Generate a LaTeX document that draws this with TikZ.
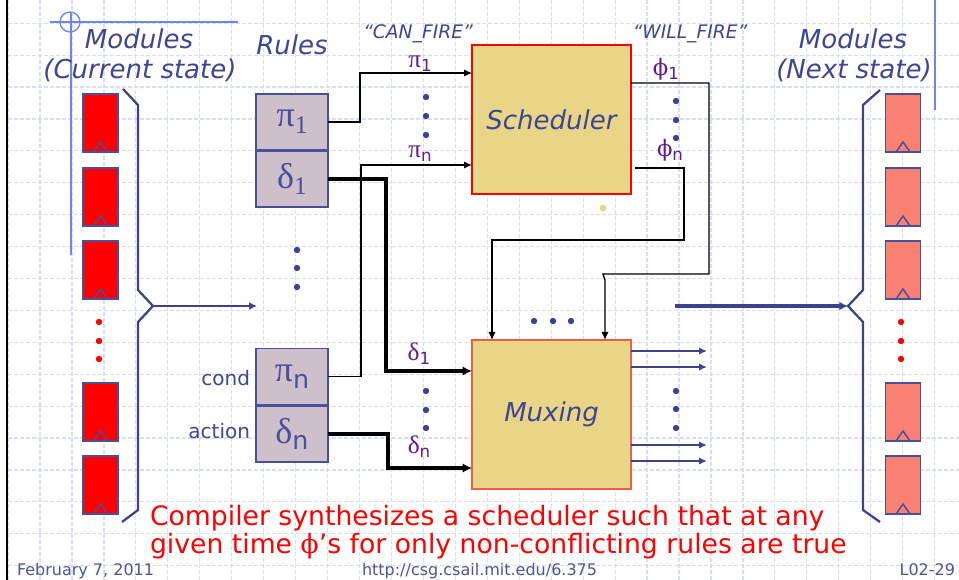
\documentclass[tikz,border=0pt]{standalone}
\usepackage{fontspec}
\setmainfont{DejaVu Sans}
\newfontfamily\gkfont{Liberation Serif}
\newfontfamily\phifont{DejaVu Serif}
\usetikzlibrary{arrows.meta,calc}
\definecolor{txtblue}{RGB}{63,69,147}
\definecolor{boxblue}{RGB}{74,79,154}
\definecolor{dotblue}{RGB}{61,66,140}
\definecolor{rulefill}{RGB}{206,192,202}
\definecolor{blockfill}{RGB}{233,213,135}
\definecolor{salmon}{RGB}{250,128,114}
\definecolor{gridcol}{RGB}{214,222,250}
\definecolor{decoblue}{RGB}{106,134,240}
\definecolor{lblpurple}{RGB}{94,30,140}
\definecolor{muxborder}{RGB}{242,92,69}
\definecolor{footcol}{RGB}{78,85,144}
\newcommand\glab[2]{{\gkfont\fontsize{19}{19}\selectfont #1}\raisebox{-3pt}{\fontsize{12.5}{12.5}\selectfont #2}}
\newcommand\plab[1]{{\phifont\fontsize{17}{17}\selectfont ϕ}\raisebox{-3pt}{\fontsize{12.5}{12.5}\selectfont #1}}
\newcommand\gbox[2]{{\gkfont\fontsize{27}{27}\selectfont #1}\raisebox{-5pt}{#2}}
\begin{document}
\begin{tikzpicture}[x=0.75pt,y=-0.75pt,
  every node/.style={inner sep=0pt, outer sep=0pt},
  gridline/.style={draw=gridcol, line width=0.9pt, dash pattern=on 3pt off 1.5pt},
  reg/.style={draw=boxblue, line width=1.3pt, minimum width=26.25pt, minimum height=43.5pt},
  rulebox/.style={draw=boxblue, fill=rulefill, line width=1.3pt, minimum width=54pt, minimum height=42pt, text=boxblue},
  blk/.style={line width=1.3pt, fill=blockfill, minimum width=119.25pt, minimum height=111.75pt, text=txtblue, font=\fontsize{19.5}{22}\selectfont\itshape},
  ttl/.style={text=txtblue, font=\fontsize{19.5}{22}\selectfont\itshape},
  smallttl/.style={text=txtblue, font=\fontsize{14}{16}\selectfont\itshape},
  conn/.style={draw=black, line width=1pt, -{Latex[length=6pt,width=5.5pt]}},
  thickconn/.style={draw=black, line width=2.7pt, -{Latex[length=7pt,width=7pt]}},
  bracket/.style={draw=dotblue, line width=1.7pt},
  bluearrow/.style={draw=dotblue, line width=1.8pt, -{Latex[length=6pt,width=6pt]}},
  bluearrowthick/.style={draw=dotblue, line width=2.3pt, -{Latex[length=6.5pt,width=6.5pt]}},
  outthin/.style={draw=dotblue, line width=1.4pt, -{Latex[length=6pt,width=5.5pt]}},
  outthick/.style={draw=dotblue, line width=2.1pt, -{Latex[length=6pt,width=5.5pt]}},
  dot/.style={circle, fill=dotblue, minimum size=4.8pt},
  reddot/.style={circle, fill=red, minimum size=4.8pt},
  lbl/.style={text=lblpurple},
  side/.style={text=txtblue, font=\fontsize{15}{17}\selectfont},
  foot/.style={text=footcol, font=\fontsize{12}{14}\selectfont},
  note/.style={text=red, font=\fontsize{20}{22}\selectfont}
]
\useasboundingbox (0,0) rectangle (959,580);
\fill[white] (0,0) rectangle (959,580);
% grid
\foreach \i in {0,...,29} \draw[gridline] ({8.05+31.95*\i},0) -- ({8.05+31.95*\i},580);
\foreach \j in {0,...,17} \draw[gridline] (8,{23.3+31.9*\j}) -- (959,{23.3+31.9*\j});
% frame decorations
\draw[black, line width=2pt] (7,0) -- (7,580);
\draw[decoblue, line width=1.2pt] (50,22) -- (238,22);
\draw[decoblue, line width=1.2pt] (71,13) -- (71,255);
\draw[decoblue, line width=1pt] (70,22) circle[radius=10];
\draw[decoblue, line width=1.5pt] (935,0) -- (935,110);
% titles
\node[ttl] (modL) at (139,39) {Modules};
\node[ttl] (curL) at (140,70) {(Current state)};
\node[ttl] (rules) at (292,45) {Rules};
\node[smallttl] (canfire) at (418,34) {“CAN\_FIRE”};
\node[smallttl] (willfire) at (690,34) {“WILL\_FIRE”};
\node[ttl] (modR) at (853,39) {Modules};
\node[ttl] (nextR) at (854,70) {(Next state)};
% registers
\foreach \n/\y in {l1/123,l2/197,l3/270,l4/412,l5/485} {
  \node[reg, fill=red] (\n) at (100.5,\y) {};
  \draw[boxblue, line width=1.1pt] ($(\n.south)+(-7,0)$) -- ($(\n.south)+(0,-10)$) -- ($(\n.south)+(7,0)$);
}
\foreach \n/\y in {r1/123,r2/197,r3/270,r4/412,r5/485} {
  \node[reg, fill=salmon] (\n) at (903,\y) {};
  \draw[boxblue, line width=1.1pt] ($(\n.south)+(-7,0)$) -- ($(\n.south)+(0,-10)$) -- ($(\n.south)+(7,0)$);
}
\foreach \y [count=\k] in {322,341,359} {
  \node[reddot] (ldot\k) at (99,\y) {};
  \node[reddot] (rdot\k) at (901,\y) {};
}
% brackets
\coordinate (lb) at (153,306);
\coordinate (rulein) at (257,306);
\draw[bracket, line join=miter] (123,89) -- (138,105) -- (138,290) -- (lb) -- (138,322) -- (138,510) -- (122,522);
\draw[bluearrow] (lb) -- (rulein);
\coordinate (rb) at (848,306);
\coordinate (muxout) at (675,306);
\draw[bracket, line join=miter] (880,90) -- (863,105) -- (863,290) -- (rb) -- (863,322) -- (863,510) -- (880,522);
\draw[bluearrowthick] (muxout) -- (rb);
% rules
\node[rulebox] (rp1) at (292,122) {\gbox{π}{\fontsize{19}{19}\gkfont 1}};
\node[rulebox] (rd1) at (292,179) {\gbox{δ}{\fontsize{19}{19}\gkfont 1}};
\node[rulebox] (rpn) at (292,376.5) {\gbox{π}{\fontsize{19}{19}\selectfont n}};
\node[rulebox] (rdn) at (292,434) {\gbox{δ}{\fontsize{19}{19}\selectfont n}};
\node[side, anchor=east] (cond) at (250,378) {cond};
\node[side, anchor=east] (action) at (250,431) {action};
\foreach \y [count=\k] in {250,268,287} \node[dot] (rdots\k) at (297,\y) {};
% blocks
\node[blk, draw=red] (sched) at (551.5,119.5) {Scheduler};
\node[blk, draw=muxborder] (mux) at (551.5,414.5) {Muxing};
\node[circle, fill=blockfill, minimum size=5pt] (ydot) at (603,208) {};
% pi connectors
\draw[conn] (rp1.east) -- (360,122) |- (sched.west |- 0,73);
\draw[conn] (rpn.east) -- (361,376.5) |- (sched.west |- 0,165);
\node[lbl] (lp1) at (420,64) {\glab{π}{1}};
\node[lbl] (lpn) at (420,154) {\glab{π}{n}};
\foreach \y [count=\k] in {97,116,135} \node[dot] (pdots\k) at (426,\y) {};
% delta connectors
\draw[thickconn] (rd1.east) -- (386,179) |- (mux.west |- 0,371);
\draw[thickconn] (rdn.east) -- (388,434) |- (mux.west |- 0,468);
\node[lbl] (ld1) at (419,354) {\glab{δ}{1}};
\node[lbl] (ldn) at (419,447) {\glab{δ}{n}};
\foreach \y [count=\k] in {391,410,428} \node[dot] (ddots\k) at (426,\y) {};
% phi connectors
\draw[conn] (sched.east |- 0,83) -- (709,83) -- (709,274) -- (603,274) -- (605,280) -- (mux.north -| 605,0);
\draw[conn] (635,168) -- (684,168) -- (684,240) -- (492,240) -- (mux.north -| 492,0);
\node[lbl] (lf1) at (666,69) {\plab{1}};
\node[lbl] (lfn) at (670,150) {\plab{n}};
\foreach \y [count=\k] in {101,120,138} \node[dot] (fdots\k) at (676,\y) {};
\foreach \x [count=\k] in {534,553,571} \node[dot] (hdots\k) at (\x,321) {};
% mux outputs
\coordinate (o1) at (707,351);
\coordinate (o2) at (707,367);
\coordinate (o3) at (707,445);
\coordinate (o4) at (707,461);
\draw[outthin] (mux.east |- o1) -- (o1);
\draw[outthick] (mux.east |- o2) -- (o2);
\draw[outthin] (mux.east |- o3) -- (o3);
\draw[outthick] (mux.east |- o4) -- (o4);
\foreach \y [count=\k] in {391,409,428} \node[dot] (odots\k) at (676,\y) {};
% note
\node[note, anchor=base west] (note1) at (150,525) {Compiler synthesizes a scheduler such that at any};
\node[note, anchor=base west] (note2) at (150,553) {given time {\phifont ϕ}’s for only non-conflicting rules are true};
% footer
\node[foot, anchor=base west] (date) at (17,575) {February 7, 2011};
\node[foot, anchor=base west] (url) at (362,575) {http://csg.csail.mit.edu/6.375};
\node[foot, anchor=base east] (pg) at (955,575) {L02-29};
\end{tikzpicture}
\end{document}
